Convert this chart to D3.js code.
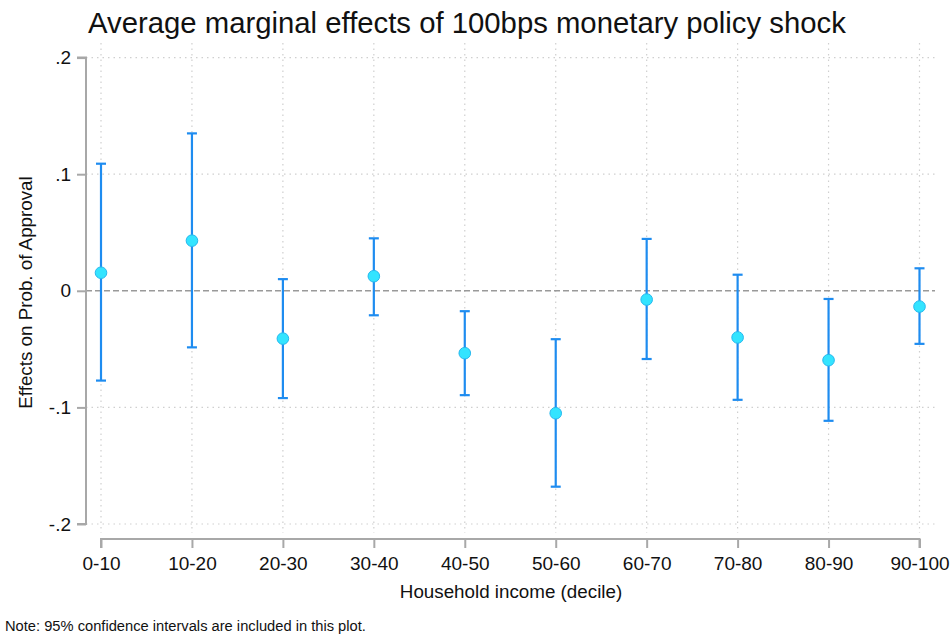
<!DOCTYPE html>
<html>
<head>
<meta charset="utf-8">
<script src="https://cdn.jsdelivr.net/npm/d3@7"></script>
<style>
  html, body { margin: 0; padding: 0; background: #fff; }
  svg { display: block; font-family: "Liberation Sans", Arial, sans-serif; }
</style>
</head>
<body>
<svg id="chart" width="952" height="634"></svg>
<script>
// Income deciles and the estimated average marginal effects with 95% CIs
const deciles = ["0-10", "10-20", "20-30", "30-40", "40-50", "50-60", "60-70", "70-80", "80-90", "90-100"];
const effects = [0.0155, 0.043, -0.041, 0.0125, -0.0535, -0.105, -0.0075, -0.040, -0.0595, -0.0135];
const ciLower = [-0.077, -0.0485, -0.092, -0.021, -0.0895, -0.168, -0.0585, -0.0935, -0.1115, -0.0455];
const ciUpper = [0.109, 0.135, 0.010, 0.045, -0.0175, -0.0415, 0.0445, 0.0138, -0.007, 0.0193];
const yTicks = [0.2, 0.1, 0, -0.1, -0.2];
const yTickLabels = [".2", ".1", "0", "-.1", "-.2"];

(function drawChart() {
  const svg = d3.select("#chart");
  const font = "'Liberation Sans', Arial, sans-serif";

  // Plot region
  const plot = { left: 86, right: 935, top: 43, bottom: 533 };

  const x = d3.scalePoint().domain(deciles).range([101, 919.5]);
  const y = d3.scaleLinear().domain([-0.2, 0.2]).range([524, 57.6]);

  // Horizontal grid (dotted); zero reference line drawn separately
  svg.append("g").selectAll("line")
    .data(yTicks.filter(t => t !== 0))
    .join("line")
    .attr("x1", plot.left).attr("x2", plot.right)
    .attr("y1", d => y(d)).attr("y2", d => y(d))
    .attr("stroke", "#cfcfcf").attr("stroke-width", 1.2)
    .attr("stroke-dasharray", "1.5,4");

  // Vertical grid (dotted) at each decile
  svg.append("g").selectAll("line")
    .data(deciles)
    .join("line")
    .attr("x1", d => x(d)).attr("x2", d => x(d))
    .attr("y1", plot.top).attr("y2", plot.bottom)
    .attr("stroke", "#cfcfcf").attr("stroke-width", 1.2)
    .attr("stroke-dasharray", "1.5,4");

  // Zero reference line
  svg.append("line")
    .attr("x1", plot.left).attr("x2", plot.right)
    .attr("y1", y(0)).attr("y2", y(0))
    .attr("stroke", "#9a9a9a").attr("stroke-width", 1.5)
    .attr("stroke-dasharray", "6,3");

  // Y axis
  const yAxis = d3.axisLeft(y)
    .tickValues(yTicks)
    .tickFormat((d, i) => yTickLabels[i])
    .tickSize(9).tickPadding(6);
  const gy = svg.append("g").attr("transform", `translate(${plot.left},0)`).call(yAxis);
  gy.select(".domain").attr("stroke", "#a8a8a8").attr("stroke-width", 2)
    .attr("d", `M-9,${y(0.2)}H0V${y(-0.2)}H-9`);
  gy.selectAll(".tick line").attr("stroke", "#a8a8a8").attr("stroke-width", 2);
  gy.selectAll(".tick text").attr("fill", "#111").style("font-size", "19px")
    .style("font-family", font);

  // X axis
  const xAxis = d3.axisBottom(x).tickSize(9).tickPadding(9);
  const gx = svg.append("g").attr("transform", "translate(0,539)").call(xAxis);
  gx.select(".domain").attr("stroke", "#a8a8a8").attr("stroke-width", 2)
    .attr("d", `M${x(deciles[0])},9V0H${x(deciles[deciles.length - 1])}V9`);
  gx.selectAll(".tick line").attr("stroke", "#a8a8a8").attr("stroke-width", 2);
  gx.selectAll(".tick text").attr("fill", "#111").style("font-size", "19px")
    .style("font-family", font);

  // Confidence intervals
  const capW = 5;
  const bars = svg.append("g").attr("stroke", "#1e8cf0").attr("stroke-width", 2.2).attr("fill", "none");
  deciles.forEach((d, i) => {
    const cx = x(d);
    bars.append("line").attr("x1", cx).attr("x2", cx)
      .attr("y1", y(ciUpper[i])).attr("y2", y(ciLower[i]));
    bars.append("line").attr("x1", cx - capW).attr("x2", cx + capW)
      .attr("y1", y(ciUpper[i])).attr("y2", y(ciUpper[i]));
    bars.append("line").attr("x1", cx - capW).attr("x2", cx + capW)
      .attr("y1", y(ciLower[i])).attr("y2", y(ciLower[i]));
  });

  // Point estimates
  svg.append("g").selectAll("circle")
    .data(deciles)
    .join("circle")
    .attr("cx", d => x(d))
    .attr("cy", (d, i) => y(effects[i]))
    .attr("r", 5.8)
    .attr("fill", "#33e4ff")
    .attr("stroke", "#25b8ee")
    .attr("stroke-width", 1);

  // Title and axis titles
  svg.append("text")
    .attr("x", 88).attr("y", 33)
    .attr("fill", "#111").style("font-size", "29.3px")
    .text("Average marginal effects of 100bps monetary policy shock");

  svg.append("text")
    .attr("transform", `translate(31.5,292.5) rotate(-90)`)
    .attr("text-anchor", "middle")
    .attr("fill", "#111").style("font-size", "18.8px")
    .text("Effects on Prob. of Approval");

  svg.append("text")
    .attr("x", 511).attr("y", 597.5)
    .attr("text-anchor", "middle")
    .attr("fill", "#111").style("font-size", "18.8px")
    .text("Household income (decile)");

  svg.append("text")
    .attr("x", 5).attr("y", 631)
    .attr("fill", "#111").style("font-size", "14.7px")
    .text("Note: 95% confidence intervals are included in this plot.");
})();
</script>
</body>
</html>
